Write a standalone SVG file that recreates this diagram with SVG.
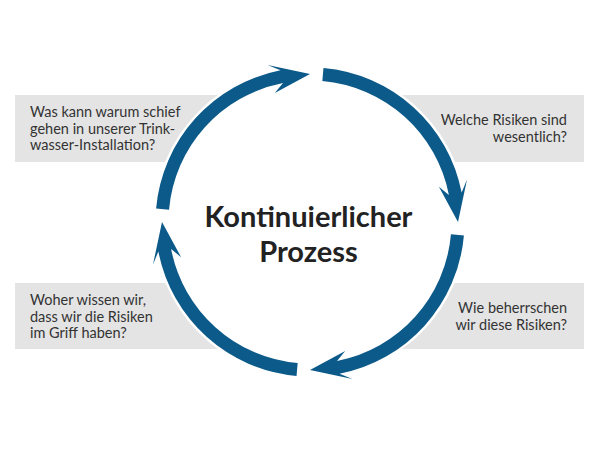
<svg xmlns="http://www.w3.org/2000/svg" width="600" height="450" viewBox="0 0 600 450">
  <style>
    .box { fill: #e4e4e4; }
    .q { font-family: Lato, "Open Sans", "Liberation Sans", sans-serif; font-size: 14.5px; fill: #333333; }
    .r { text-anchor: end; }
    .title { font-family: Lato, "Open Sans", "Liberation Sans", sans-serif; font-size: 29px; font-weight: bold; fill: #222222; text-anchor: middle; }
    .arrow { fill: #0c5a8a; stroke: none; }
  </style>
  <defs>
    <path id="arcArrow" class="arrow" d="M 13.47 -153.91 A 154.5 154.5 0 0 1 151.66 -29.48 L 157 -42.5 L 148 0 L 128.9 -35.2 L 138.9 -27.0 A 141.5 141.5 0 0 0 12.33 -140.96 Z"/>
  </defs>
  <rect width="600" height="450" fill="#ffffff"/>

  <g id="node-top-left">
    <rect class="box" x="15" y="95" width="240" height="67"/>
  </g>
  <g id="node-top-right">
    <rect class="box" x="365" y="95" width="219" height="67"/>
  </g>
  <g id="node-bottom-left">
    <rect class="box" x="15" y="283" width="240" height="66"/>
  </g>
  <g id="node-bottom-right">
    <rect class="box" x="365" y="283" width="219" height="66"/>
  </g>

  <circle cx="310" cy="222" r="157" fill="#ffffff"/>

  <g id="connectors">
    <use href="#arcArrow" transform="translate(310 222) rotate(0)"/>
    <use href="#arcArrow" transform="translate(310 222) rotate(90)"/>
    <use href="#arcArrow" transform="translate(310 222) rotate(180)"/>
    <use href="#arcArrow" transform="translate(310 222) rotate(270)"/>
  </g>

  <g id="label-top-left">
    <text class="q" x="30" y="117">Was kann warum schief</text>
    <text class="q" x="30" y="133.5">gehen in unserer Trink-</text>
    <text class="q" x="30" y="150">wasser-Installation?</text>
  </g>
  <g id="label-top-right">
    <text class="q r" x="567" y="125">Welche Risiken sind</text>
    <text class="q r" x="567" y="142">wesentlich?</text>
  </g>
  <g id="label-bottom-left">
    <text class="q" x="30" y="305">Woher wissen wir,</text>
    <text class="q" x="30" y="321.5">dass wir die Risiken</text>
    <text class="q" x="30" y="338">im Griff haben?</text>
  </g>
  <g id="label-bottom-right">
    <text class="q r" x="567" y="313">Wie beherrschen</text>
    <text class="q r" x="567" y="330">wir diese Risiken?</text>
  </g>

  <g id="center">
    <text class="title" x="308.5" y="227">Kontinuierlicher</text>
    <text class="title" x="308.5" y="262">Prozess</text>
  </g>
</svg>
